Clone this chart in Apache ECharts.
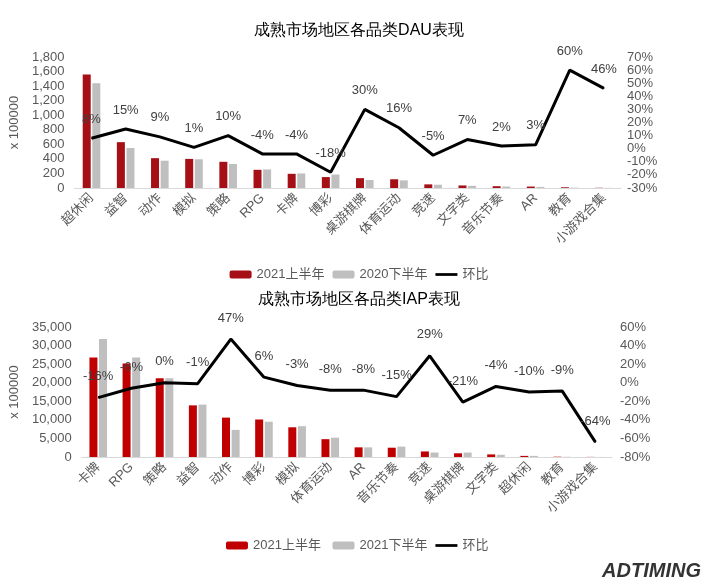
<!DOCTYPE html>
<html><head><meta charset="utf-8">
<script src="https://cdn.jsdelivr.net/npm/echarts@6/dist/echarts.min.js"></script>
<style>body{margin:0;background:#fff}#c{width:718px;height:586px}</style>
</head><body><div id="c"></div>
<script>
// DAU
var dauCats = ['超休闲','益智','动作','模拟','策略','RPG','卡牌','博彩','桌游棋牌','体育运动','竞速','文字类','音乐节奏','AR','教育','小游戏合集'];
var dau2021H1 = [1560,630,410,400,360,250,195,150,135,120,50,35,25,20,10,3];
var dau2020H2 = [1440,550,375,395,330,255,200,185,110,105,45,30,20,15,5,2];
var dauGrowth = [8,15,9,1,10,-4,-4,-18,30,16,-5,7,2,3,60,46];
// IAP
var iapCats = ['卡牌','RPG','策略','益智','动作','博彩','模拟','体育运动','AR','音乐节奏','竞速','桌游棋牌','文字类','超休闲','教育','小游戏合集'];
var iap2021H1 = [26800,25200,21200,13900,10600,10100,8000,4800,2600,2500,1500,1000,700,300,80,30];
var iap2021H2 = [31800,26800,21200,14100,7300,9500,8300,5200,2600,2800,1200,1200,600,300,60,20];
var iapGrowth = [-16,-6,0,-1,47,6,-3,-8,-8,-15,29,-21,-4,-10,-9,-64];

var txt = {color:'#595959', fontSize:13, fontFamily:'Liberation Sans, Noto Sans CJK SC'};
function numFmt(v){ return v.toLocaleString('en-US'); }
var lineIcon = 'path://M0,0H24V3H0Z';

var chart = echarts.init(document.getElementById('c'));
chart.setOption({
  animation: false,
  title: [
    {text:'成熟市场地区各品类DAU表现', left:'center', top:18, textStyle:{fontSize:16, fontWeight:'normal', color:'#000'}},
    {text:'成熟市场地区各品类IAP表现', left:'center', top:287, textStyle:{fontSize:16, fontWeight:'normal', color:'#000'}},
    {text:'ADTIMING', right:12, top:556, textStyle:{fontSize:20, fontWeight:'bold', color:'#333', fontStyle:'italic'}}
  ],
  legend: [
    {top:263, left:'center', itemWidth:22, itemHeight:8, textStyle:txt, selectedMode:false,
     data:['2021上半年','2020下半年',{name:'环比', icon:lineIcon}]},
    {top:534, left:'center', itemWidth:22, itemHeight:8, textStyle:txt, selectedMode:false,
     data:['2021上半年 ','2021下半年',{name:'环比 ', icon:lineIcon}]}
  ],
  grid: [
    {left:62, right:97, top:57, height:131},
    {left:78, right:106, top:327, height:130}
  ],
  xAxis: [
    {type:'category', gridIndex:0, data:dauCats, axisTick:{show:false}, axisLine:{lineStyle:{color:'#d9d9d9'}},
     axisLabel:Object.assign({rotate:45, interval:0, margin:8}, txt)},
    {type:'category', gridIndex:1, data:iapCats, axisTick:{show:false}, axisLine:{lineStyle:{color:'#d9d9d9'}},
     axisLabel:Object.assign({rotate:45, interval:0, margin:8}, txt)}
  ],
  yAxis: [
    {type:'value', gridIndex:0, min:0, max:1800, interval:200, splitLine:{show:false},
     name:'x 100000', nameLocation:'middle', nameGap:46, nameRotate:90, nameTextStyle:txt,
     axisLabel:Object.assign({formatter:numFmt, margin:10}, txt)},
    {type:'value', gridIndex:0, min:-30, max:70, interval:10, splitLine:{show:false}, position:'right',
     axisLabel:Object.assign({formatter:'{value}%', margin:6}, txt)},
    {type:'value', gridIndex:1, min:0, max:35000, interval:5000, splitLine:{show:false},
     name:'x 100000', nameLocation:'middle', nameGap:60, nameRotate:90, nameTextStyle:txt,
     axisLabel:Object.assign({formatter:numFmt, margin:10}, txt)},
    {type:'value', gridIndex:1, min:-80, max:60, interval:20, splitLine:{show:false}, position:'right',
     axisLabel:Object.assign({formatter:'{value}%', margin:8}, txt)}
  ],
  series: [
    {name:'2021上半年', type:'bar', xAxisIndex:0, yAxisIndex:0, data:dau2021H1, itemStyle:{color:'#a50f15'}, barWidth:8, barGap:'20%'},
    {name:'2020下半年', type:'bar', xAxisIndex:0, yAxisIndex:0, data:dau2020H2, itemStyle:{color:'#bfbfbf'}, barWidth:8},
    {name:'环比', type:'line', xAxisIndex:0, yAxisIndex:1, data:dauGrowth, symbol:'circle', symbolSize:1, lineStyle:{color:'#000', width:3}, itemStyle:{color:'#000'},
     label:{show:true, position:'top', distance:12, formatter:'{c}%', color:'#404040', fontSize:13}},
    {name:'2021上半年 ', type:'bar', xAxisIndex:1, yAxisIndex:2, data:iap2021H1, itemStyle:{color:'#c00000'}, barWidth:8, barGap:'20%'},
    {name:'2021下半年', type:'bar', xAxisIndex:1, yAxisIndex:2, data:iap2021H2, itemStyle:{color:'#bfbfbf'}, barWidth:8},
    {name:'环比 ', type:'line', xAxisIndex:1, yAxisIndex:3, data:iapGrowth, symbol:'circle', symbolSize:1, lineStyle:{color:'#000', width:3}, itemStyle:{color:'#000'},
     label:{show:true, position:'top', distance:14, formatter:'{c}%', color:'#404040', fontSize:13}}
  ]
});
</script></body></html>
